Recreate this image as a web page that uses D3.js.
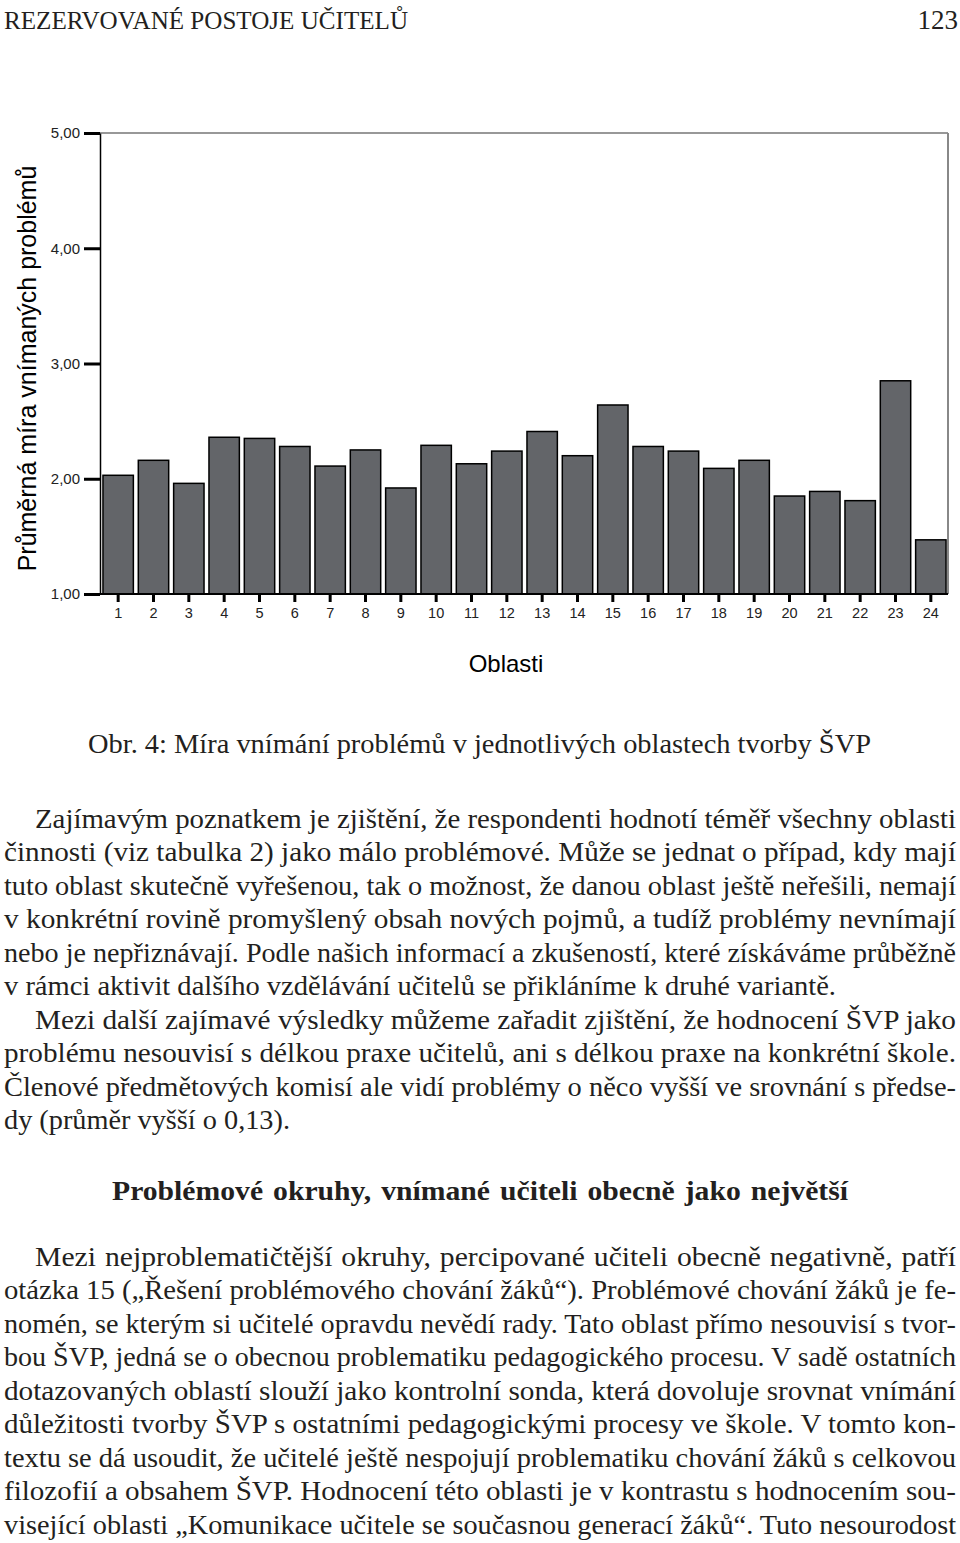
<!DOCTYPE html>
<html><head><meta charset="utf-8">
<script src="https://cdn.jsdelivr.net/npm/d3@7"></script>
<style>html,body{margin:0;padding:0;background:#fff;}svg{display:block;}</style>
</head><body>
<script>
// ---- chart data ----
const categories = d3.range(1, 25).map(String);
const values = [2.03, 2.16, 1.96, 2.36, 2.35, 2.28, 2.11, 2.25, 1.92, 2.29, 2.13, 2.24,
                2.41, 2.20, 2.64, 2.28, 2.24, 2.09, 2.16, 1.85, 1.89, 1.81, 2.85, 1.47];
const yTicks = [1, 2, 3, 4, 5];
const yTitle = "Průměrná míra vnímaných problémů";
const xTitle = "Oblasti";

// ---- page text ----
const headerLeft = "REZERVOVANÉ POSTOJE UČITELŮ";
const headerRight = "123";
const caption = "Obr. 4: Míra vnímání problémů v jednotlivých oblastech tvorby ŠVP";
const para1 = [
  "Zajímavým poznatkem je zjištění, že respondenti hodnotí téměř všechny oblasti",
  "činnosti (viz tabulka 2) jako málo problémové. Může se jednat o případ, kdy mají",
  "tuto oblast skutečně vyřešenou, tak o možnost, že danou oblast ještě neřešili, nemají",
  "v konkrétní rovině promyšlený obsah nových pojmů, a tudíž problémy nevnímají",
  "nebo je nepřiznávají. Podle našich informací a zkušeností, které získáváme průběžně",
  "v rámci aktivit dalšího vzdělávání učitelů se přikláníme k druhé variantě."
];
const para2 = [
  "Mezi další zajímavé výsledky můžeme zařadit zjištění, že hodnocení ŠVP jako",
  "problému nesouvisí s délkou praxe učitelů, ani s délkou praxe na konkrétní škole.",
  "Členové předmětových komisí ale vidí problémy o něco vyšší ve srovnání s předse-",
  "dy (průměr vyšší o 0,13)."
];
const heading = "Problémové okruhy, vnímané učiteli obecně jako největší";
const para3 = [
  "Mezi nejproblematičtější okruhy, percipované učiteli obecně negativně, patří",
  "otázka 15 („Řešení problémového chování žáků“). Problémové chování žáků je fe-",
  "nomén, se kterým si učitelé opravdu nevědí rady. Tato oblast přímo nesouvisí s tvor-",
  "bou ŠVP, jedná se o obecnou problematiku pedagogického procesu. V sadě ostatních",
  "dotazovaných oblastí slouží jako kontrolní sonda, která dovoluje srovnat vnímání",
  "důležitosti tvorby ŠVP s ostatními pedagogickými procesy ve škole. V tomto kon-",
  "textu se dá usoudit, že učitelé ještě nespojují problematiku chování žáků s celkovou",
  "filozofií a obsahem ŠVP. Hodnocení této oblasti je v kontrastu s hodnocením sou-",
  "visející oblasti „Komunikace učitele se současnou generací žáků“. Tuto nesourodost"
];

const W = 960, H = 1543;
const svg = d3.select("body").append("svg").attr("width", W).attr("height", H);
svg.append("rect").attr("width", W).attr("height", H).attr("fill", "#fff");

// ---- chart ----
const plot = {left: 100, right: 948, top: 133, bottom: 594};
const x = d3.scaleBand().domain(categories).range([plot.left + 0.5, plot.right + 0.5])
  .paddingInner(0.14).paddingOuter(0.07);
const y = d3.scaleLinear().domain([1, 5]).range([plot.bottom, plot.top]);

const sans = "'Liberation Sans', Arial, sans-serif";

// frame (top and right)
svg.append("line").attr("x1", plot.left).attr("x2", plot.right).attr("y1", plot.top).attr("y2", plot.top)
  .attr("stroke", "#333").attr("stroke-width", 1.2);
svg.append("line").attr("x1", plot.right).attr("x2", plot.right).attr("y1", plot.top).attr("y2", plot.bottom)
  .attr("stroke", "#888").attr("stroke-width", 2);

// bars
svg.append("g").selectAll("rect").data(values).join("rect")
  .attr("x", (d, i) => x(categories[i]))
  .attr("width", x.bandwidth())
  .attr("y", d => y(d))
  .attr("height", d => y(1) - y(d))
  .attr("fill", "#636569")
  .attr("stroke", "#000")
  .attr("stroke-width", 1.5);

// y axis
const yAxis = svg.append("g").attr("transform", `translate(${plot.left},0)`)
  .call(d3.axisLeft(y).tickValues(yTicks).tickFormat(d => d3.format(".2f")(d).replace(".", ","))
    .tickSizeInner(16).tickSizeOuter(0).tickPadding(4));
yAxis.select(".domain").attr("stroke", "#000").attr("stroke-width", 1.5);
yAxis.selectAll(".tick line").attr("stroke", "#000").attr("stroke-width", 3);
yAxis.selectAll(".tick text").attr("font-family", sans).attr("font-size", 15).attr("fill", "#222");

// x axis
const xAxis = svg.append("g").attr("transform", `translate(0,${plot.bottom})`)
  .call(d3.axisBottom(x).tickSizeInner(8).tickSizeOuter(0).tickPadding(6));
xAxis.select(".domain").attr("stroke", "#000").attr("stroke-width", 2)
  .attr("d", `M${plot.left},0H${plot.right}`);
xAxis.selectAll(".tick line").attr("stroke", "#000").attr("stroke-width", 3);
xAxis.selectAll(".tick text").attr("font-family", sans).attr("font-size", 14.5).attr("fill", "#222");

// axis titles
svg.append("text").attr("transform", `translate(36,${(160 + 577) / 2}) rotate(-90)`)
  .attr("text-anchor", "middle").attr("font-family", sans).attr("font-size", 25).attr("fill", "#000")
  .text(yTitle);
svg.append("text").attr("x", 506).attr("y", 672).attr("text-anchor", "middle")
  .attr("font-family", sans).attr("font-size", 24).attr("fill", "#000").text(xTitle);

// ---- page text ----
const serif = "'Liberation Serif', 'Times New Roman', serif";
const txt = svg.append("g").attr("font-family", serif).attr("fill", "#231f20");

function fitLine(str, x0, x1, yb, opts = {}) {
  const t = txt.append("text").attr("x", x0).attr("y", yb)
    .attr("font-size", opts.size || 28).text(str);
  if (opts.bold) t.attr("font-weight", "bold");
  const target = x1 - x0;
  const w = t.node().getComputedTextLength();
  const spaces = (str.match(/ /g) || []).length;
  // stretch glyphs to most of the gap, put the rest in word spacing
  const ratio = target / w;
  if (ratio > 1.06 && spaces > 0) {
    const w2 = w * 1.06;
    t.attr("word-spacing", (target - w2) / spaces / 1.06);
  }
  t.attr("textLength", target).attr("lengthAdjust", "spacingAndGlyphs");
  return t;
}

fitLine(headerLeft, 4, 408, 29, {size: 26});
txt.append("text").attr("x", 958).attr("y", 29).attr("text-anchor", "end").attr("font-size", 27).text(headerRight);

fitLine(caption, 88, 871, 753, {size: 28});

const LH = 33.45;
const left = 4, right = 956, indent = 35;
function paragraph(lines, y0, lastEnd) {
  lines.forEach((s, i) => {
    const x0 = i === 0 ? indent : left;
    const yb = y0 + i * LH;
    if (i === lines.length - 1 && lastEnd) fitLine(s, x0, lastEnd, yb);
    else fitLine(s, x0, right, yb);
  });
}
paragraph(para1, 828, 836);
paragraph(para2, 1029, 290);
fitLine(heading, 112, 848, 1200, {size: 28, bold: true});
paragraph(para3, 1266, null);
</script>
</body></html>
